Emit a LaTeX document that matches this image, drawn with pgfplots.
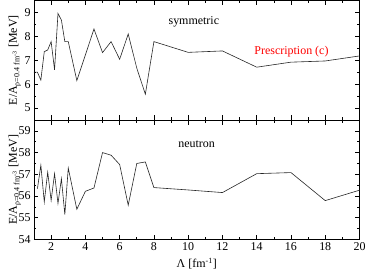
\documentclass[border=0pt]{standalone}
\usepackage{fontspec}
\setmainfont{Liberation Serif}
\usepackage{pgfplots}
\pgfplotsset{compat=1.18}
\begin{document}
\begin{tikzpicture}
\pgfplotsset{
  every axis/.append style={
    scale only axis, width=325.5bp, height=119.5bp,
    xmin=1, xmax=20,
    font=\fontsize{12}{14}\selectfont,
    tick label style={font=\fontsize{12}{14}\selectfont},
    /pgf/number format/assume math mode=true,
    tick align=inside,
    major tick length=4.5bp, minor tick length=2.5bp,
    axis line style={line width=0.8pt},
    every tick/.style={black, line width=0.6pt},
    xtick={2,4,...,20}, minor x tick num=1,
    minor y tick num=1,
    clip=false,
    ylabel style={at={(axis description cs:-0.0891,0.5)}, anchor=north},
  },
}
\begin{axis}[name=top, at={(0,119.5bp)}, anchor=south west,
  ymin=4.5, ymax=9.5, ytick={5,6,7,8,9},
  xticklabels={},
  ylabel={E/A\textsubscript{ρ=0.4 fm\textsuperscript{-3}} [MeV]},
]
\addplot[black!85, line width=0.6pt] coordinates {
(1.0,6.5) (1.2,6.5) (1.4,6.17) (1.6,7.36) (1.8,7.43) (2.0,7.78) (2.2,6.6)
(2.4,8.96) (2.6,8.68) (2.8,7.78) (3.0,7.78) (3.5,6.15) (4,7.22) (4.5,8.31)
(5,7.32) (5.5,7.78) (6,7.04) (6.5,8.1) (7,6.67) (7.5,5.58) (8,7.78)
(10,7.33) (12,7.39) (14,6.71) (16,6.92) (18,6.97) (20,7.18)
};
\node at (axis cs:10.33,8.61) {symmetric};
\node[red] at (axis cs:16.03,7.36) {Prescription (c)};
\end{axis}
\begin{axis}[name=bot, at={(0,0)}, anchor=south west,
  ymin=54, ymax=59.5, ytick={54,55,56,57,58,59},
  xlabel={Λ [fm\textsuperscript{-1}]},
  ylabel={E/A\textsubscript{ρ=0.4 fm\textsuperscript{-3}} [MeV]},
]
\addplot[black!85, line width=0.6pt] coordinates {
(1.2,56.34) (1.4,57.42) (1.6,55.73) (1.8,57.1) (2.0,55.8) (2.2,57.03)
(2.4,55.66) (2.6,56.8) (2.8,55.15) (3.0,57.29) (3.5,55.39) (4,56.22)
(4.5,56.37) (5,58.0) (5.5,57.88) (6,57.45) (6.5,55.58) (7,57.5) (7.5,57.57)
(8,56.39) (10,56.28) (12,56.16) (14,57.03) (16,57.08) (18,55.79) (20,56.27)
};
\node at (axis cs:10.49,58.38) {neutron};
\end{axis}
\pgfresetboundingbox
\useasboundingbox (-34bp,-31bp) rectangle (333bp,239.5bp);
\end{tikzpicture}
\end{document}
